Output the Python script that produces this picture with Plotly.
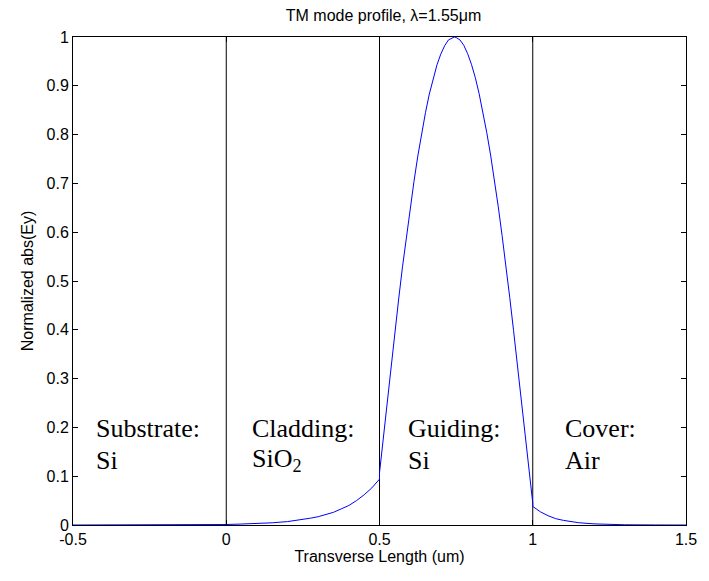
import plotly.graph_objects as go

# Mode profile (x in um, normalized |Ey|)
x_vals = [-0.5, -0.25, 0.0, 0.05, 0.1, 0.15, 0.2, 0.225, 0.25, 0.275, 0.3, 0.325, 0.35,
          0.375, 0.4, 0.425, 0.45, 0.475, 0.5,
          0.5, 0.5125, 0.525, 0.5375, 0.55, 0.5625, 0.575, 0.5875, 0.6, 0.6125, 0.625, 0.6375,
          0.65, 0.6625, 0.675, 0.6875, 0.7, 0.7125, 0.725, 0.7375, 0.744, 0.75, 0.7625,
          0.775, 0.7875, 0.8, 0.8125, 0.825, 0.8375, 0.85, 0.8625, 0.875, 0.8875, 0.9, 0.9125,
          0.925, 0.9375, 0.95, 0.9625, 0.975, 0.9875, 1.0,
          1.0, 1.025, 1.05, 1.075, 1.1, 1.125, 1.15, 1.2, 1.25, 1.3, 1.4, 1.5]
y_vals = [0.0, 0.0, 0.001, 0.002, 0.003, 0.0045, 0.007, 0.009, 0.011, 0.014, 0.017, 0.021, 0.026,
          0.033, 0.040, 0.050, 0.062, 0.076, 0.094,
          0.107, 0.181, 0.254, 0.327, 0.395, 0.463, 0.529, 0.590, 0.649, 0.704, 0.756, 0.803,
          0.845, 0.883, 0.916, 0.943, 0.965, 0.982, 0.994, 0.999, 1.0, 0.999, 0.994,
          0.983, 0.966, 0.944, 0.917, 0.884, 0.847, 0.804, 0.758, 0.707, 0.652, 0.593, 0.532,
          0.466, 0.398, 0.329, 0.257, 0.184, 0.110, 0.045,
          0.038, 0.027, 0.019, 0.013, 0.0095, 0.0067, 0.0047, 0.0023, 0.0011, 0.0005, 0.0001, 0.0]

boundaries = [0.0, 0.5, 1.0]
region_x = [-0.432, 0.077, 0.585, 1.1]
region_line1 = ["Substrate:", "Cladding:", "Guiding:", "Cover:"]
region_line2 = ["Si", "SiO<sub>2</sub>", "Si", "Air"]

x_ticks = [-0.5, 0, 0.5, 1, 1.5]
x_tick_text = ["-0.5", "0", "0.5", "1", "1.5"]
y_ticks = [0, 0.1, 0.2, 0.3, 0.4, 0.5, 0.6, 0.7, 0.8, 0.9, 1]
y_tick_text = ["0", "0.1", "0.2", "0.3", "0.4", "0.5", "0.6", "0.7", "0.8", "0.9", "1"]

fig = go.Figure()

for b in boundaries:
    fig.add_trace(go.Scatter(x=[b, b], y=[0, 1], mode="lines",
                             line=dict(color="black", width=1), showlegend=False,
                             hoverinfo="skip"))

fig.add_trace(go.Scatter(x=x_vals, y=y_vals, mode="lines",
                         line=dict(color="#0000ff", width=1), showlegend=False))

serif = dict(family="Liberation Serif", size=26, color="black")
for rx, l1, l2 in zip(region_x, region_line1, region_line2):
    fig.add_annotation(x=rx, y=0.197, text=l1, showarrow=False, xanchor="left",
                       yanchor="middle", align="left", font=serif)
    fig.add_annotation(x=rx, y=0.133, text=l2, showarrow=False, xanchor="left",
                       yanchor="middle", align="left", font=serif)

sans = dict(family="Liberation Sans", size=16, color="black")
axis_common = dict(showgrid=False, zeroline=False, showline=True, linecolor="black",
                   linewidth=1, mirror="allticks", ticks="inside", ticklen=5,
                   tickcolor="black", tickfont=sans)

fig.update_xaxes(range=[-0.5, 1.5], tickvals=x_ticks, ticktext=x_tick_text,
                 title=dict(text="Transverse Length (um)", standoff=2, font=sans),
                 **axis_common)
fig.update_yaxes(range=[0, 1], tickvals=y_ticks, ticktext=y_tick_text,
                 title=dict(text="Normalized abs(Ey)", standoff=8, font=sans),
                 **axis_common)

fig.update_layout(
    width=709, height=581,
    margin=dict(l=73, r=15, t=37, b=56),
    paper_bgcolor="white", plot_bgcolor="white",
    title=dict(text="TM mode profile, λ=1.55μm", x=0.541, xanchor="center", y=0.974, yanchor="middle",
               font=sans),
)

fig.write_html("out.html")
